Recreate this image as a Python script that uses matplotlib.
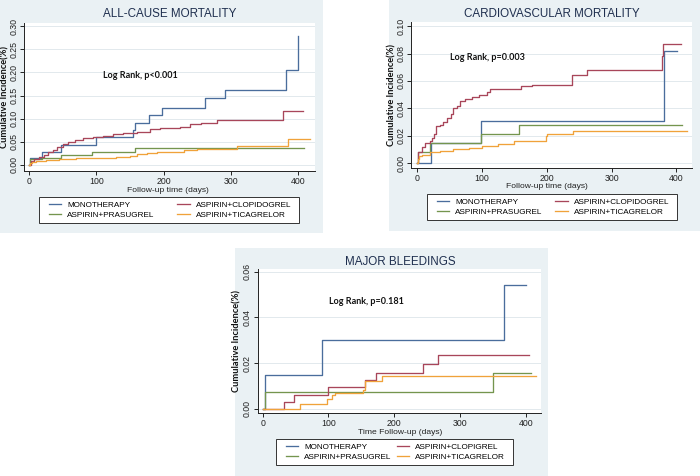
#!/usr/bin/env python3

import matplotlib
matplotlib.use('Agg')
import matplotlib.pyplot as plt
from matplotlib.patches import Rectangle
from matplotlib.lines import Line2D

'''
Kaplan-Meier style cumulative incidence, three panels
'''

# ---- data ----
labels_mort = ['MONOTHERAPY', 'ASPIRIN+PRASUGREL', 'ASPIRIN+CLOPIDOGREL', 'ASPIRIN+TICAGRELOR']
labels_bleed = ['MONOTHERAPY', 'ASPIRIN+PRASUGREL', 'ASPIRIN+CLOPIGREL', 'ASPIRIN+TICAGRELOR']

# all-cause mortality
ac_mono_t = [0, 2, 20, 47, 99, 155, 157, 178, 198, 262, 292, 382, 400]
ac_mono_y = [0, 0.015, 0.029, 0.044, 0.060, 0.076, 0.091, 0.108, 0.124, 0.144, 0.162, 0.205, 0.278]
ac_prasu_t = [0, 2, 20, 47, 93, 157, 408]
ac_prasu_y = [0, 0.012, 0.015, 0.022, 0.029, 0.036, 0.036]
ac_clopi_t = [0, 3, 8, 15, 22, 28, 35, 42, 50, 58, 68, 80, 95, 110, 125, 140, 160, 180, 195,
              225, 240, 255, 279, 377, 407]
ac_clopi_y = [0, 0.008, 0.012, 0.018, 0.022, 0.028, 0.033, 0.038, 0.045, 0.050, 0.055, 0.058,
              0.060, 0.063, 0.066, 0.070, 0.072, 0.077, 0.081, 0.083, 0.088, 0.090, 0.097,
              0.116, 0.116]
ac_tica_t = [0, 2, 5, 10, 25, 45, 70, 100, 130, 150, 160, 175, 190, 230, 250, 309, 385, 418]
ac_tica_y = [0, 0.004, 0.007, 0.009, 0.011, 0.013, 0.015, 0.016, 0.018, 0.020, 0.023, 0.026,
             0.029, 0.033, 0.035, 0.040, 0.056, 0.056]

# cardiovascular mortality
cv_mono_t = [0, 21, 99, 381, 401]
cv_mono_y = [0, 0.015, 0.031, 0.082, 0.082]
cv_prasu_t = [0, 2, 20, 98, 157, 408]
cv_prasu_y = [0, 0.008, 0.015, 0.021, 0.028, 0.028]
cv_clopi_t = [0, 1, 7, 12, 20, 23, 26, 29, 36, 40, 46, 52, 56, 61, 66, 74, 85, 95, 108, 113,
              161, 177, 239, 262, 378, 380, 407]
cv_clopi_y = [0, 0.008, 0.012, 0.015, 0.016, 0.018, 0.021, 0.027, 0.028, 0.030, 0.033, 0.036,
              0.040, 0.042, 0.045, 0.047, 0.048, 0.050, 0.052, 0.054, 0.056, 0.057, 0.064,
              0.068, 0.078, 0.087, 0.087]
cv_tica_t = [0, 1, 3, 8, 20, 35, 55, 80, 100, 125, 150, 199, 201, 240, 416]
cv_tica_y = [0, 0.003, 0.005, 0.006, 0.008, 0.009, 0.0105, 0.011, 0.0125, 0.014, 0.016,
             0.0195, 0.021, 0.0235, 0.0235]

# major bleedings
mb_mono_t = [0, 3, 90, 367, 400]
mb_mono_y = [0, 0.015, 0.030, 0.054, 0.054]
mb_prasu_t = [0, 3, 350, 407]
mb_prasu_y = [0, 0.0075, 0.0155, 0.0155]
mb_clopi_t = [0, 32, 48, 100, 156, 172, 244, 267, 405]
mb_clopi_y = [0, 0.003, 0.0063, 0.0098, 0.0127, 0.0156, 0.0195, 0.0234, 0.0234]
mb_tica_t = [0, 57, 97, 105, 110, 153, 156, 181, 415]
mb_tica_y = [0, 0.002, 0.0045, 0.006, 0.007, 0.0082, 0.012, 0.0144, 0.0144]

colors = ['#4a6d9c', '#74954e', '#a8465a', '#f0a23a']  # mono, prasugrel, clopidogrel, ticagrelor

W, H = 700, 476
BG = '#eaf1f4'
GRID = '#e2e9ed'
ARIAL = 'Liberation Sans'
CAL = 'Lato'

fig = plt.figure(figsize=(W / 100, H / 100), dpi=100)


def fx(px):
    return px / W


def fy(py):
    return 1 - py / H


def rect(l, t, r, b):
    return [l / W, 1 - b / H, (r - l) / W, (b - t) / H]


def panel(bg, box, xlim, ylim, yticks, ytl, series, labels, title, title_xy, lr, lr_xy,
          xlab, xlab_xy, ylab_x, leg):
    fig.patches.append(Rectangle((fx(bg[0]), fy(bg[3])), (bg[2] - bg[0]) / W, (bg[3] - bg[1]) / H,
                                 transform=fig.transFigure, facecolor=BG, edgecolor='none', zorder=-5))
    ax = fig.add_axes(rect(*box))
    ax.set_facecolor('white')
    for (t, y), c in zip(series, colors):
        ax.step(t, y, where='post', color=c, lw=0.95)
    ax.set_xlim(*xlim)
    ax.set_ylim(*ylim)
    ax.set_xticks([0, 100, 200, 300, 400])
    ax.set_yticks(yticks)
    ax.set_yticklabels(ytl, rotation=90, va='center')
    for y in yticks:
        ax.axhline(y, color=GRID, lw=0.7, zorder=0)
    ax.spines['top'].set_visible(False)
    ax.spines['right'].set_visible(False)
    for s in ['left', 'bottom']:
        ax.spines[s].set_color('#222222')
        ax.spines[s].set_linewidth(0.7)
    ax.tick_params(length=3, width=0.7, color='#222222', labelsize=6.3, pad=1.2)
    for lab in ax.get_xticklabels() + ax.get_yticklabels():
        lab.set_family(ARIAL)
        lab.set_color('#222222')
    fig.text(fx(title_xy[0]), fy(title_xy[1]), title, ha='center', va='center',
             family=ARIAL, fontsize=8.4, color='#1f2f4f')
    fig.text(fx(lr_xy[0]), fy(lr_xy[1]), lr, ha='left', va='center',
             family=CAL, fontweight='bold', fontsize=6.5, color='#111111')
    fig.text(fx(xlab_xy[0]), fy(xlab_xy[1]), xlab, ha='center', va='center',
             family=ARIAL, fontsize=6.1, color='#222222')
    fig.text(fx(ylab_x), fy((box[1] + box[3]) / 2), 'Cumulative Incidence(%)', ha='center', va='center',
             rotation=90, family=CAL, fontweight='bold', fontsize=6.7, color='#111111')
    # legend frame drawn by hand, entries placed inside with some side margin
    fig.patches.append(Rectangle((fx(leg[0]), fy(leg[3])), (leg[2] - leg[0]) / W, (leg[3] - leg[1]) / H,
                                 transform=fig.transFigure, facecolor='white', edgecolor='#333333',
                                 lw=0.7, zorder=-4))
    handles = [Line2D([], [], color=c, lw=0.95) for c in colors]
    fig.legend(handles, labels, ncol=2, loc='center left',
               bbox_to_anchor=(fx(leg[0] + 10), fy(leg[3]), (leg[2] - leg[0] - 18) / W,
                               (leg[3] - leg[1]) / H),
               mode='expand', borderaxespad=0, frameon=False,
               handlelength=1.5, handletextpad=0.7,
               labelspacing=0.32, borderpad=0,
               prop={'family': ARIAL, 'size': 5.9})
    return ax


panel((0, 0, 323, 233), (24, 23, 315, 171), (-7.4, 425), (-0.013, 0.307),
      [0, 0.05, 0.10, 0.15, 0.20, 0.25, 0.30], ['0.00', '0.05', '0.10', '0.15', '0.20', '0.25', '0.30'],
      [(ac_mono_t, ac_mono_y), (ac_prasu_t, ac_prasu_y), (ac_clopi_t, ac_clopi_y), (ac_tica_t, ac_tica_y)],
      labels_mort, 'ALL-CAUSE MORTALITY', (170, 14), 'Log Rank, p<0.001', (103, 76),
      'Follow-up time (days)', (168, 190), 5, (39, 197, 299, 223))

panel((389, 0, 700, 231), (411, 22, 692, 168), (-9.3, 424), (-0.0036, 0.103),
      [0, 0.02, 0.04, 0.06, 0.08, 0.10], ['0.00', '0.02', '0.04', '0.06', '0.08', '0.10'],
      [(cv_mono_t, cv_mono_y), (cv_prasu_t, cv_prasu_y), (cv_clopi_t, cv_clopi_y), (cv_tica_t, cv_tica_y)],
      labels_mort, 'CARDIOVASCULAR MORTALITY', (552, 14), 'Log Rank, p=0.003', (450, 57),
      'Follow-up time (days)', (547, 187), 392, (427, 194, 677, 220))

panel((235, 248, 548, 476), (257.7, 269, 540.7, 413.3), (-7.6, 422.5), (-0.0019, 0.0611),
      [0, 0.02, 0.04, 0.06], ['0.00', '0.02', '0.04', '0.06'],
      [(mb_mono_t, mb_mono_y), (mb_prasu_t, mb_prasu_y), (mb_clopi_t, mb_clopi_y), (mb_tica_t, mb_tica_y)],
      labels_bleed, 'MAJOR BLEEDINGS', (400, 262), 'Log Rank, p=0.181', (329, 302),
      'Time Follow-up (days)', (400, 432), 237, (276, 439, 513, 465))

plt.savefig('out.png', dpi=100)
